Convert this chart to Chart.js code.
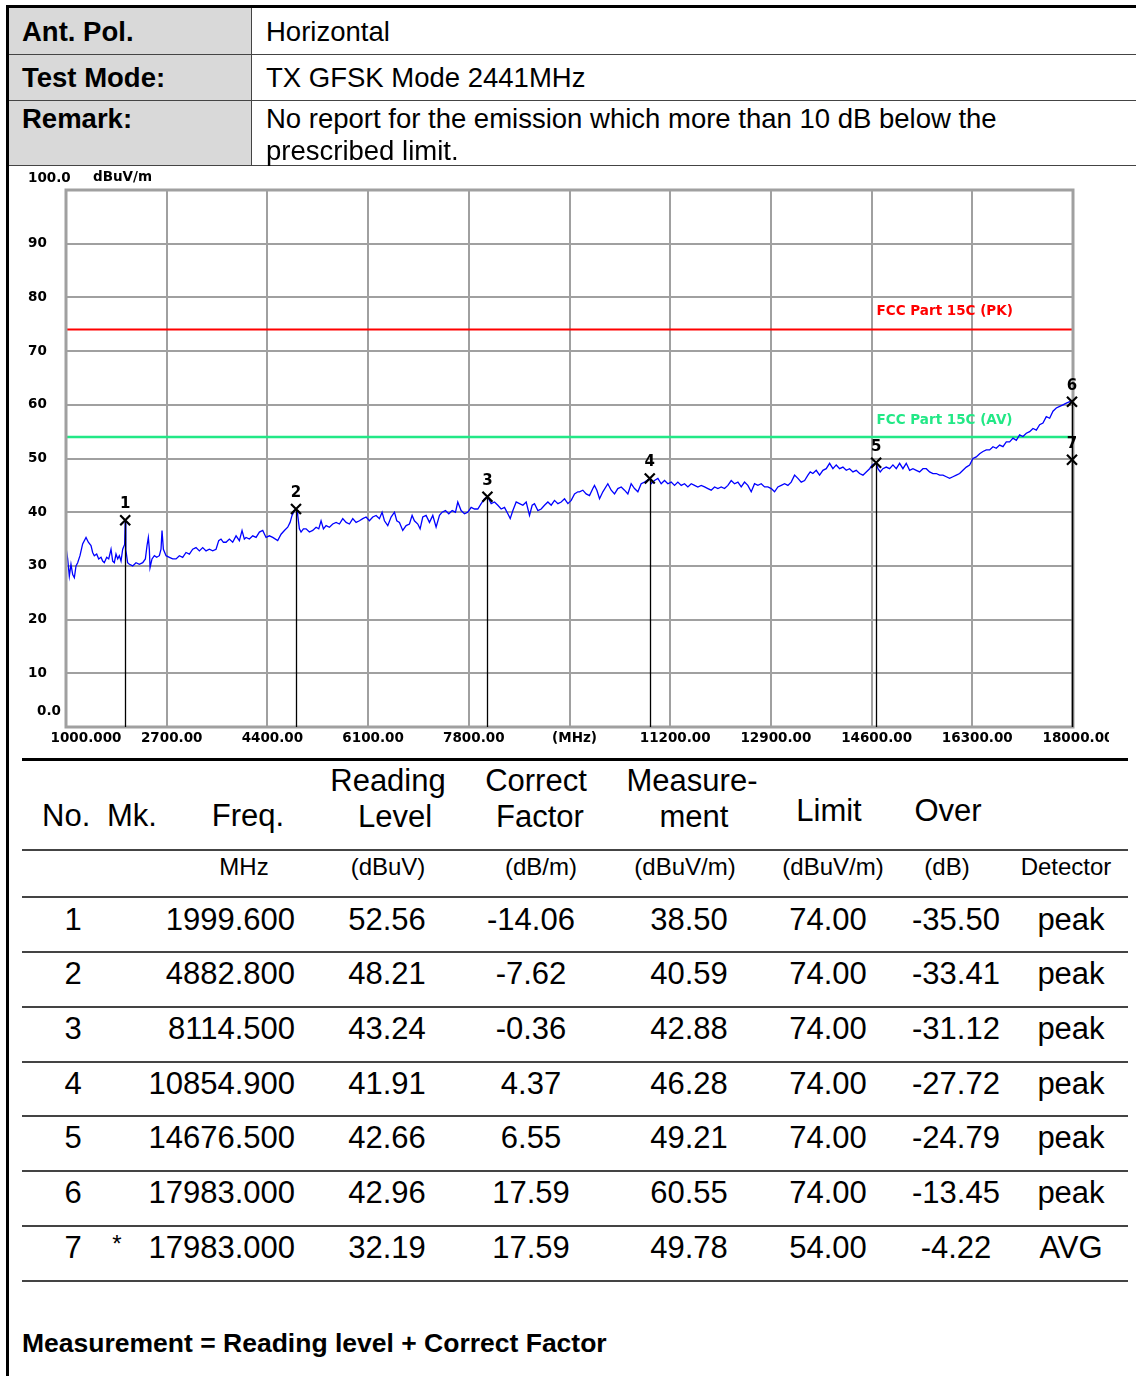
<!DOCTYPE html>
<html>
<head>
<meta charset="utf-8">
<script src="https://cdn.jsdelivr.net/npm/chart.js@4.4.1/dist/chart.umd.min.js"></script>
<style>
body{margin:0;width:1136px;height:1376px;position:relative;overflow:hidden;background:#fff;color:#000;font-family:"Liberation Sans",Arial,sans-serif}
.abs{position:absolute;white-space:nowrap}
.ln{position:absolute}
#grafico{position:absolute;left:10px;top:166px}
</style>
</head>
<body>
<canvas id="grafico" width="1099" height="590"></canvas>
<script>
// datos del grafico
const xGrid = [1000, 2700, 4400, 6100, 7800, 9500, 11200, 12900, 14600, 16300, 18000];
const xTickLabels = ['1000.000', '2700.00', '4400.00', '6100.00', '7800.00', '(MHz)', '11200.00', '12900.00', '14600.00', '16300.00', '18000.00'];
const yGrid = [0, 10, 20, 30, 40, 50, 60, 70, 80, 90, 100];
const yTickLabels = ['0.0', '10', '20', '30', '40', '50', '60', '70', '80', '90', '100.0'];
const limitePK = 74;
const limiteAV = 54;

// traza medida [MHz, dBuV/m]
const traza = [
  [1000,33.4],[1028,31.3],[1056,28.1],[1084,30.3],[1113,28.4],[1141,27.8],[1169,30.0],[1197,30.6],[1236,31.9],[1281,34.1],
  [1338,35.3],[1377,34.4],[1422,33.8],[1450,32.5],[1478,31.9],[1518,32.2],[1552,31.3],[1591,31.6],[1619,30.9],[1647,30.6],
  [1687,31.6],[1721,31.3],[1760,33.1],[1788,30.9],[1816,30.6],[1844,32.2],[1873,31.3],[1901,31.9],[1929,30.9],[1957,33.1],
  [1990,34.0],[2000,38.5],[2010,33.0],[2040,30.6],[2070,30.3],[2126,30.0],[2182,30.6],[2238,30.3],[2295,30.6],[2340,31.3],
  [2368,33.8],[2390,35.3],[2407,33.1],[2419,29.7],[2452,31.3],[2492,31.9],[2531,31.6],[2576,31.9],[2604,33.1],[2621,36.6],
  [2644,33.1],[2689,31.9],[2745,31.6],[2801,31.3],[2858,31.3],[2914,31.9],[2970,31.6],[3026,32.5],[3083,32.2],[3139,33.1],
  [3195,33.4],[3252,32.8],[3308,33.4],[3364,32.8],[3420,33.1],[3477,32.8],[3533,33.1],[3578,34.7],[3617,35.0],[3657,34.4],
  [3702,34.4],[3758,35.0],[3814,34.4],[3871,35.6],[3927,34.7],[3972,36.6],[4011,35.0],[4040,35.3],[4096,35.0],[4152,35.6],
  [4209,35.3],[4265,36.3],[4321,36.6],[4377,35.3],[4434,35.6],[4490,35.3],[4574,34.7],[4631,35.9],[4687,36.6],[4743,37.2],
  [4783,38.1],[4816,39.4],[4856,40.3],[4883,40.6],[4900,40.2],[4912,39.4],[4940,36.9],[4968,36.3],[5008,36.9],[5053,36.9],
  [5109,36.3],[5165,36.6],[5222,37.2],[5267,36.9],[5306,38.4],[5346,36.9],[5391,37.5],[5447,37.2],[5503,37.8],[5560,38.1],
  [5616,37.8],[5672,38.8],[5729,38.1],[5785,37.8],[5841,38.8],[5897,38.1],[5954,38.4],[6010,38.8],[6066,39.1],[6122,38.4],
  [6179,39.1],[6235,39.4],[6291,38.8],[6336,40.0],[6376,38.4],[6432,37.5],[6488,39.1],[6545,40.0],[6584,38.4],[6629,38.1],
  [6685,36.6],[6742,37.5],[6798,37.8],[6843,39.4],[6882,38.4],[6939,37.8],[6978,36.9],[7023,39.1],[7079,39.4],[7136,38.1],
  [7192,39.4],[7248,37.2],[7305,39.4],[7350,40.0],[7406,40.3],[7462,39.7],[7519,40.3],[7575,40.0],[7614,41.9],[7670,40.3],
  [7727,39.7],[7783,40.0],[7840,40.9],[7896,40.6],[7952,40.6],[8009,41.6],[8065,42.5],[8114,42.9],[8150,42.2],[8178,41.6],
  [8234,41.9],[8290,41.3],[8346,40.6],[8403,40.9],[8459,39.7],[8499,38.8],[8544,40.3],[8600,41.9],[8656,41.6],[8713,41.3],
  [8769,41.9],[8825,39.4],[8870,41.3],[8909,41.6],[8966,40.3],[9022,40.6],[9078,41.3],[9135,41.9],[9191,41.3],[9247,42.2],
  [9304,41.6],[9360,41.9],[9416,42.5],[9473,41.6],[9529,42.2],[9585,43.4],[9641,43.8],[9669,43.8],[9725,44.1],[9781,43.4],
  [9838,43.1],[9894,44.4],[9922,45.0],[9962,44.1],[10007,42.5],[10063,43.8],[10147,45.3],[10204,44.1],[10260,43.4],[10316,44.4],
  [10373,44.7],[10429,44.1],[10485,43.4],[10541,45.3],[10598,44.4],[10654,43.8],[10710,45.3],[10767,45.6],[10806,45.9],[10855,46.3],
  [10879,45.3],[10935,45.9],[10992,46.3],[11048,45.3],[11104,45.9],[11161,45.3],[11217,45.6],[11273,45.0],[11329,45.6],[11386,45.0],
  [11442,45.3],[11498,44.7],[11555,45.3],[11611,45.0],[11667,44.7],[11723,45.0],[11780,44.7],[11836,44.4],[11892,44.1],[11949,44.7],
  [12005,44.4],[12061,44.7],[12117,44.4],[12174,45.0],[12230,45.9],[12286,45.3],[12343,45.6],[12399,44.7],[12455,45.6],[12511,45.0],
  [12568,43.8],[12624,45.3],[12680,45.0],[12737,45.3],[12793,44.7],[12849,44.7],[12906,44.4],[12962,43.8],[13018,44.7],[13075,45.0],
  [13131,45.3],[13187,45.0],[13243,45.6],[13300,46.9],[13356,46.3],[13412,45.6],[13469,45.9],[13525,46.9],[13564,47.5],[13609,47.2],
  [13665,47.8],[13722,46.9],[13778,47.8],[13834,48.1],[13891,49.1],[13947,48.1],[14003,48.8],[14060,48.1],[14116,48.4],[14172,47.8],
  [14228,48.1],[14285,47.5],[14341,47.8],[14397,47.2],[14454,46.9],[14510,47.5],[14566,48.1],[14611,48.8],[14676,49.2],[14707,48.1],
  [14746,47.5],[14791,48.1],[14847,48.4],[14904,48.1],[14960,48.8],[15016,48.1],[15073,49.1],[15129,48.1],[15185,49.1],[15242,47.8],
  [15298,48.1],[15354,47.8],[15410,47.5],[15467,48.1],[15523,48.1],[15579,47.5],[15636,47.2],[15692,47.2],[15748,46.9],[15805,46.9],
  [15861,46.6],[15917,46.3],[15973,46.6],[16030,46.9],[16086,47.2],[16142,47.8],[16199,48.4],[16255,48.8],[16311,50.0],[16367,50.3],
  [16424,50.9],[16480,51.3],[16536,51.6],[16593,51.6],[16649,52.2],[16705,51.9],[16761,52.5],[16818,52.2],[16874,53.1],[16930,53.1],
  [16987,53.8],[17043,53.4],[17099,54.4],[17155,54.1],[17212,54.7],[17268,55.0],[17324,55.6],[17381,55.3],[17437,56.3],[17493,56.6],
  [17549,57.8],[17606,57.5],[17662,58.8],[17718,59.4],[17775,59.7],[17831,60.0],[17887,60.3],[17944,60.6],[17983,60.55],[18000,60.8]
];

// tabla de marcadores
const numero = [1, 2, 3, 4, 5, 6, 7];
const marca = ['', '', '', '', '', '', '*'];
const frecuencia = [1999.6, 4882.8, 8114.5, 10854.9, 14676.5, 17983.0, 17983.0];
const lectura = [52.56, 48.21, 43.24, 41.91, 42.66, 42.96, 32.19];
const factor = [-14.06, -7.62, -0.36, 4.37, 6.55, 17.59, 17.59];
const medicion = [38.50, 40.59, 42.88, 46.28, 49.21, 60.55, 49.78];
const limite = [74.00, 74.00, 74.00, 74.00, 74.00, 74.00, 54.00];
const margen = [-35.50, -33.41, -31.12, -27.72, -24.79, -13.45, -4.22];
const detector = ['peak', 'peak', 'peak', 'peak', 'peak', 'peak', 'AVG'];

const FUENTE_GRAF = '"DejaVu Sans", sans-serif';
const VERDE = '#22e886';

function linea(x, y, w, h, color){
    const d = document.createElement('div');
    d.className = 'ln';
    d.style.cssText = 'left:' + x + 'px;top:' + y + 'px;width:' + w + 'px;height:' + h + 'px;background:' + color;
    document.body.appendChild(d);
}

function texto(str, x, y, align, size, bold){
    const d = document.createElement('div');
    const lh = Math.round(size * 1.2);
    d.className = 'abs';
    d.textContent = str;
    let css = 'top:' + (y - lh / 2) + 'px;font-size:' + size + 'px;line-height:' + lh + 'px;';
    if (bold) css += 'font-weight:bold;';
    if (align === 'left') css += 'left:' + x + 'px;';
    else if (align === 'center') css += 'left:' + (x - 300) + 'px;width:600px;text-align:center;';
    else css += 'left:' + (x - 600) + 'px;width:600px;text-align:right;';
    d.style.cssText = css;
    document.body.appendChild(d);
}

// cabecera
linea(9, 8, 242, 157, '#d9d9d9');
linea(6, 5, 1130, 3, '#000');
linea(6, 5, 3, 1371, '#000');
linea(9, 54, 1127, 1, '#444');
linea(9, 100, 1127, 1, '#444');
linea(9, 165, 1127, 1, '#444');
linea(251, 8, 1, 157, '#444');

texto('Ant. Pol.', 22, 31, 'left', 27.5, true);
texto('Test Mode:', 22, 77, 'left', 27.5, true);
texto('Remark:', 22, 118, 'left', 27.5, true);
texto('Horizontal', 266, 31, 'left', 27.5, false);
texto('TX GFSK Mode 2441MHz', 266, 77, 'left', 27.5, false);
texto('No report for the emission which more than 10 dB below the', 266, 118, 'left', 27.5, false);
texto('prescribed limit.', 266, 150, 'left', 27.5, false);

// tabla de resultados
linea(22, 758, 1106, 3, '#000');
linea(22, 849, 1106, 2, '#444');
linea(22, 896, 1106, 2, '#444');

texto('No.', 42, 815, 'left', 31, false);
texto('Mk.', 107, 815, 'left', 31, false);
texto('Freq.', 248, 815, 'center', 31, false);
texto('Reading', 388, 780, 'center', 31, false);
texto('Level', 395, 816, 'center', 31, false);
texto('Correct', 536, 780, 'center', 31, false);
texto('Factor', 540, 816, 'center', 31, false);
texto('Measure-', 692, 780, 'center', 31, false);
texto('ment', 694, 816, 'center', 31, false);
texto('Limit', 829, 810, 'center', 31, false);
texto('Over', 948, 810, 'center', 31, false);

texto('MHz', 244, 866, 'center', 24, false);
texto('(dBuV)', 388, 866, 'center', 24, false);
texto('(dB/m)', 541, 866, 'center', 24, false);
texto('(dBuV/m)', 685, 866, 'center', 24, false);
texto('(dBuV/m)', 833, 866, 'center', 24, false);
texto('(dB)', 947, 866, 'center', 24, false);
texto('Detector', 1066, 866, 'center', 24, false);

numero.forEach(function(n, i){
    const cy = 919 + i * 54.7;
    texto(String(n), 73, cy, 'center', 31, false);
    if (marca[i]) texto(marca[i], 117, cy - 4, 'center', 24, false);
    texto(frecuencia[i].toFixed(3), 295, cy, 'right', 31, false);
    texto(lectura[i].toFixed(2), 387, cy, 'center', 31, false);
    texto(factor[i].toFixed(2), 531, cy, 'center', 31, false);
    texto(medicion[i].toFixed(2), 689, cy, 'center', 31, false);
    texto(limite[i].toFixed(2), 828, cy, 'center', 31, false);
    texto(margen[i].toFixed(2), 956, cy, 'center', 31, false);
    texto(detector[i], 1071, cy, 'center', 31, false);
    linea(22, Math.round(951 + i * 54.8), 1106, 2, '#444');
});

texto('Measurement = Reading level + Correct Factor', 22, 1343, 'left', 26.5, true);

// textos y marcadores sobre el grafico
const overlay = {
    id: 'overlay',
    afterDatasetsDraw(chart){
        const ctx = chart.ctx;
        const a = chart.chartArea;
        const sx = chart.scales.x;
        const sy = chart.scales.y;
        ctx.save();

        ctx.strokeStyle = '#a0a0a0';
        ctx.lineWidth = 3;
        ctx.strokeRect(a.left, a.top, a.right - a.left, a.bottom - a.top);

        // lineas verticales de marcadores
        ctx.strokeStyle = '#000';
        ctx.lineWidth = 1.3;
        frecuencia.forEach(function(f, i){
            const px = Math.round(sx.getPixelForValue(f)) + 0.5;
            ctx.beginPath();
            ctx.moveTo(px, sy.getPixelForValue(medicion[i]));
            ctx.lineTo(px, a.bottom);
            ctx.stroke();
        });

        // cruces de marcadores
        ctx.lineWidth = 2.2;
        frecuencia.forEach(function(f, i){
            const px = sx.getPixelForValue(f);
            const py = sy.getPixelForValue(medicion[i]);
            ctx.beginPath();
            ctx.moveTo(px - 5, py - 5); ctx.lineTo(px + 5, py + 5);
            ctx.moveTo(px + 5, py - 5); ctx.lineTo(px - 5, py + 5);
            ctx.stroke();
        });

        ctx.font = 'bold 15px ' + FUENTE_GRAF;
        ctx.fillStyle = '#000';
        ctx.textAlign = 'center';
        ctx.textBaseline = 'middle';
        frecuencia.forEach(function(f, i){
            ctx.fillText(String(numero[i]), sx.getPixelForValue(f), sy.getPixelForValue(medicion[i]) - 16);
        });

        // etiquetas de limites
        ctx.font = 'bold 13.5px ' + FUENTE_GRAF;
        ctx.textAlign = 'left';
        ctx.fillStyle = '#ff0000';
        ctx.fillText('FCC Part 15C (PK)', sx.getPixelForValue(14600) + 5, sy.getPixelForValue(limitePK) - 18);
        ctx.fillStyle = VERDE;
        ctx.fillText('FCC Part 15C (AV)', sx.getPixelForValue(14600) + 5, sy.getPixelForValue(limiteAV) - 17);

        // ejes
        ctx.fillStyle = '#000';
        yGrid.forEach(function(v, i){
            let y = sy.getPixelForValue(v);
            let x = a.left - 38;
            if (v === 100) y = a.top - 12;
            if (v === 0) { y = a.bottom - 16; x = a.left - 29; }
            ctx.fillText(yTickLabels[i], x, y);
        });
        ctx.fillText('dBuV/m', a.left + 27, a.top - 13);

        ctx.textAlign = 'center';
        xGrid.forEach(function(v, i){
            const off = i === 0 ? 20 : 5;
            ctx.fillText(xTickLabels[i], sx.getPixelForValue(v) + off, a.bottom + 11);
        });
        ctx.restore();
    }
};

const rejilla = { color: '#a0a0a0', lineWidth: 2, drawTicks: false };

new Chart(document.getElementById('grafico'), {
    type: 'line',
    plugins: [overlay],
    data: {
        datasets: [
            {
                data: traza.map(function(p){ return { x: p[0], y: p[1] }; }),
                borderColor: '#0000ff',
                borderWidth: 1.3,
                pointRadius: 0
            },
            {
                data: [{ x: 1000, y: limitePK }, { x: 18000, y: limitePK }],
                borderColor: '#ff0000',
                borderWidth: 2,
                pointRadius: 0
            },
            {
                data: [{ x: 1000, y: limiteAV }, { x: 18000, y: limiteAV }],
                borderColor: VERDE,
                borderWidth: 2.5,
                pointRadius: 0
            }
        ]
    },
    options: {
        responsive: false,
        animation: false,
        layout: { padding: { left: 56, right: 36, top: 24, bottom: 29 } },
        plugins: { legend: { display: false }, tooltip: { enabled: false } },
        scales: {
            x: {
                type: 'linear', min: 1000, max: 18000,
                afterBuildTicks: function(s){ s.ticks = xGrid.map(function(v){ return { value: v }; }); },
                ticks: { display: false },
                grid: rejilla,
                border: { display: false }
            },
            y: {
                min: 0, max: 100,
                afterBuildTicks: function(s){ s.ticks = yGrid.map(function(v){ return { value: v }; }); },
                ticks: { display: false },
                grid: rejilla,
                border: { display: false }
            }
        }
    }
});
</script>
</body>
</html>
